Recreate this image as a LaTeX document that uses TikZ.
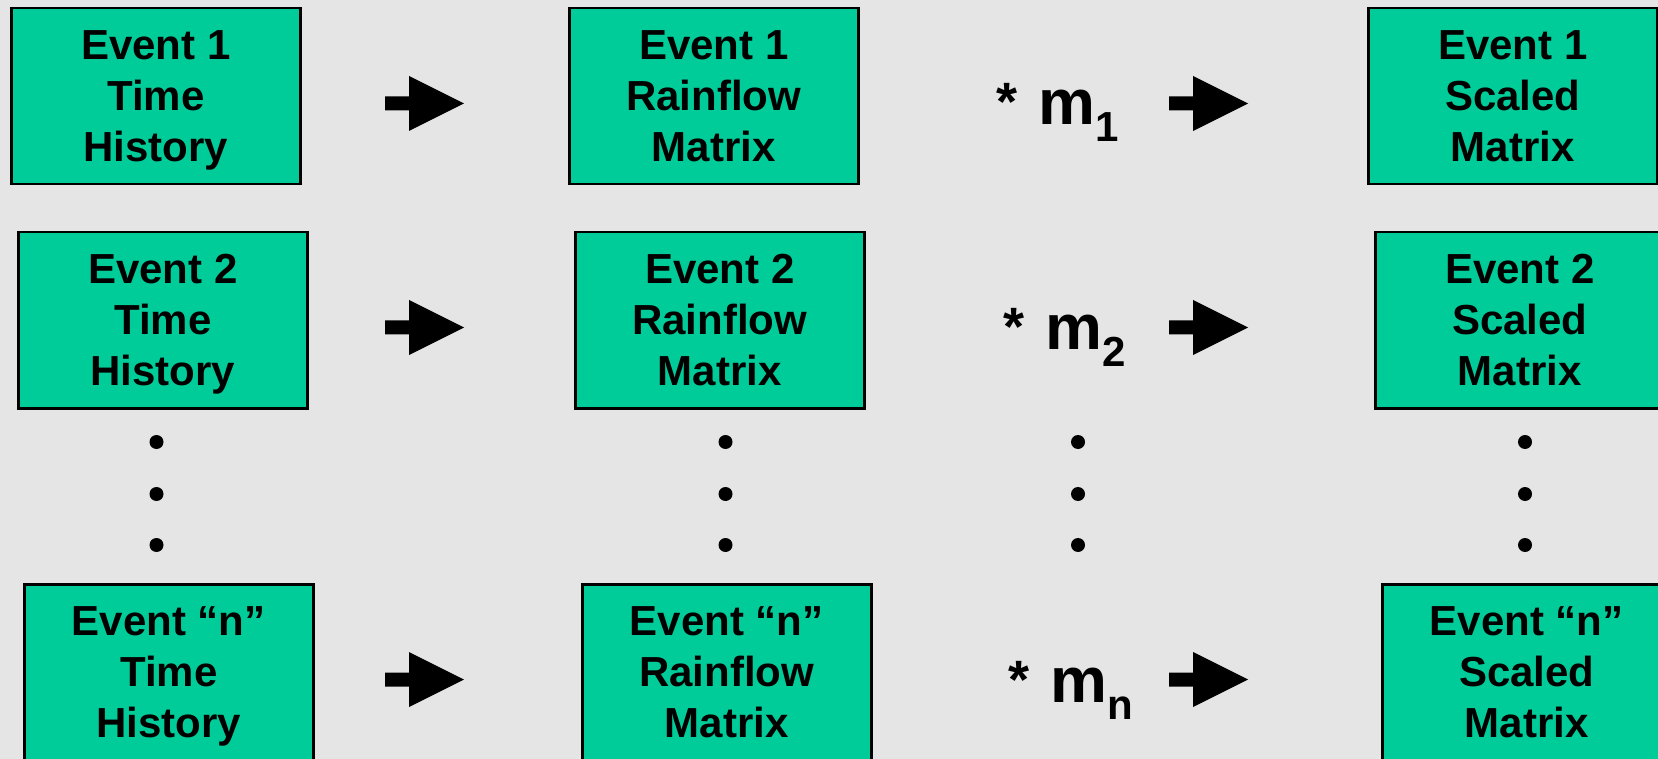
\documentclass[tikz,border=0pt]{standalone}
\usepackage{fontspec}
\setmainfont{Liberation Sans}
\definecolor{boxgreen}{HTML}{00CC99}
\definecolor{bggray}{RGB}{229,229,229}
\newcommand{\hT}{\rule{0pt}{40pt}}
\newcommand{\dB}{\rule[-11pt]{0pt}{11pt}}
\newcommand{\msub}[1]{\raisebox{-17pt}{\fontsize{42}{42}\selectfont #1}}
\newcommand{\mstar}{\raisebox{4pt}{\fontsize{54}{54}\selectfont *}\hspace{21pt}}
\tikzset{
  evbox/.style={draw=black, line width=2.5pt, fill=boxgreen, rectangle,
    anchor=north west, minimum width=289pt, minimum height=176pt,
    inner sep=0pt, align=center, font=\bfseries\fontsize{42}{51}\selectfont},
  blockarrow/.pic={\fill[black] (0,-7) -- (24,-7) -- (24,-27.5) -- (79,0)
    -- (24,27.5) -- (24,7) -- (0,7) -- cycle;},
  vdot/.style={circle, fill=black, inner sep=0pt, minimum size=14pt},
  mult/.style={anchor=base west, inner sep=0pt,
    font=\bfseries\fontsize{64}{64}\selectfont},
}
\begin{document}
\begin{tikzpicture}[x=1pt,y=-1pt]
\fill[bggray] (0,0) rectangle (1658,759);
\useasboundingbox (0,0) rectangle (1658,759);
% row 1
\node[evbox] (a1) at (10,7) {\hT Event 1\\Time\\History\dB};
\node[evbox] (b1) at (568,7) {\hT Event 1\\Rainflow\\Matrix\dB};
\node[evbox] (c1) at (1367,7) {\hT Event 1\\Scaled\\Matrix\dB};
% row 2
\node[evbox] (a2) at (17,231) {\hT Event 2\\Time\\History\dB};
\node[evbox] (b2) at (574,231) {\hT Event 2\\Rainflow\\Matrix\dB};
\node[evbox] (c2) at (1374,231) {\hT Event 2\\Scaled\\Matrix\dB};
% row n
\node[evbox] (a3) at (23,583) {\hT Event “n”\\Time\\History\dB};
\node[evbox] (b3) at (581,583) {\hT Event “n”\\Rainflow\\Matrix\dB};
\node[evbox] (c3) at (1381,583) {\hT Event “n”\\Scaled\\Matrix\dB};
% block arrows
\pic at (385,103.5) {blockarrow};
\pic at (1169,103.5) {blockarrow};
\pic at (385,327.5) {blockarrow};
\pic at (1169,327.5) {blockarrow};
\pic at (385,679.5) {blockarrow};
\pic at (1169,679.5) {blockarrow};
% multipliers
\node[mult] (m1) at (996.5,125) {\mstar m\msub{1}};
\node[mult] (m2) at (1003.5,350) {\mstar m\msub{2}};
\node[mult] (mn) at (1008.5,702) {\mstar m\msub{n}};
% vertical dots
\foreach \x/\n in {156.5/a,725.5/b,1078/m,1525/c}{
  \node[vdot] (\n d1) at (\x,442) {};
  \node[vdot] (\n d2) at (\x,494) {};
  \node[vdot] (\n d3) at (\x,545) {};
}
\end{tikzpicture}
\end{document}
